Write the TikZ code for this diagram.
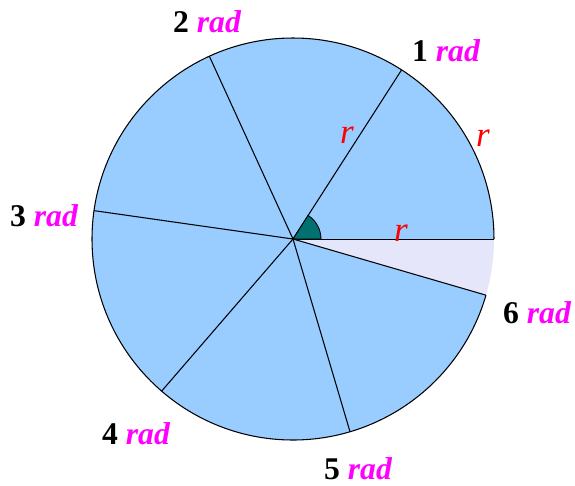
\documentclass[tikz,border=0pt]{standalone}
\usepackage{fontspec}
\setmainfont{Liberation Serif}
\usepackage{xcolor}
\usetikzlibrary{calc}
\definecolor{sectorblue}{RGB}{153,204,255}
\definecolor{restlav}{RGB}{230,230,250}
\definecolor{wedgeteal}{RGB}{0,112,112}
\definecolor{radpink}{RGB}{255,0,255}

\begin{document}
\begin{tikzpicture}[x=0.02cm, y=0.02cm,
  sector/.style={fill=sectorblue},
  rest/.style={fill=restlav},
  spoke/.style={draw=black, line width=0.6pt},
  radlbl/.style={font=\fontsize{18}{20}\selectfont\bfseries, inner sep=0pt},
  rlbl/.style={font=\fontsize{20}{22}\selectfont\itshape, text=red, inner sep=0pt}
]
\useasboundingbox (-293,-246) rectangle (282,239);
\coordinate (o) at (0,0);
\coordinate (p0) at (0:201);
\coordinate (p1) at (57.296:201);
\coordinate (p2) at (114.592:201);
\coordinate (p3) at (171.887:201);
\coordinate (p4) at (229.183:201);
\coordinate (p5) at (286.479:201);
\coordinate (p6) at (343.775:201);
% filled sectors
\fill[sector] (o) -- (p0) arc[start angle=0, end angle=343.775, radius=201] -- cycle;
\fill[rest] (o) -- (p6) arc[start angle=343.775, end angle=360, radius=201] -- cycle;
% outline and spokes
\draw[spoke] (p0) arc[start angle=0, end angle=343.775, radius=201];
\draw[spoke] (o) -- (p1);
\draw[spoke] (o) -- (p2);
\draw[spoke] (o) -- (p3);
\draw[spoke] (o) -- (p4);
\draw[spoke] (o) -- (p5);
\draw[spoke] (o) -- (p6);
\draw[spoke, line width=0.4pt] (o) -- (p0);
% angle of one radian
\filldraw[fill=wedgeteal, draw=black, line width=0.5pt] (o) -- (28,0) arc[start angle=0, end angle=57.296, radius=28] -- cycle;
% labels
\node[radlbl] (l1) at (153,188) {1 \textit{\color{radpink}rad}};
\node[radlbl] (l2) at (-86,217) {2 \textit{\color{radpink}rad}};
\node[radlbl] (l3) at (-249,23) {3 \textit{\color{radpink}rad}};
\node[radlbl] (l4) at (-157,-195) {4 \textit{\color{radpink}rad}};
\node[radlbl] (l5) at (65,-230) {5 \textit{\color{radpink}rad}};
\node[radlbl] (l6) at (244,-74) {6 \textit{\color{radpink}rad}};
\node[rlbl] (r1) at (54,104) {r};
\node[rlbl] (r2) at (108,6) {r};
\node[rlbl] (r3) at (190,101) {r};
\end{tikzpicture}
\end{document}
